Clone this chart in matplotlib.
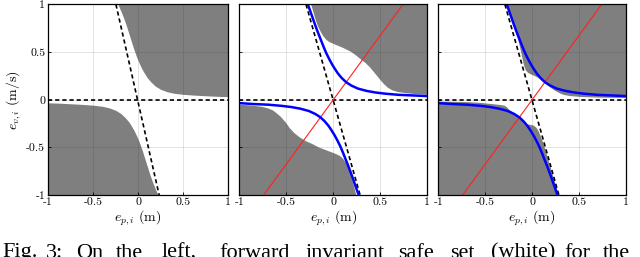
import matplotlib.pyplot as plt

plt.rcParams['mathtext.fontset'] = 'cm'
plt.rcParams['font.family'] = 'serif'
plt.rcParams['font.serif'] = ['cmr10', 'Liberation Serif', 'DejaVu Serif']
plt.rcParams['axes.unicode_minus'] = False

ticks = [-1, -0.5, 0, 0.5, 1]
tick_labels = ['-1', '-0.5', '0', '0.5', '1']

# panel 1: edges of the gray (unsafe) regions
p1_up_x = [-0.222, -0.19, -0.16, -0.13, -0.10, -0.073, -0.05, -0.02, 0.01, 0.04, 0.07,
           0.10, 0.14, 0.19, 0.25, 0.32, 0.40, 0.50, 0.60, 0.75, 0.88, 1.0]
p1_up_y = [1.0, 0.93, 0.86, 0.78, 0.69, 0.61, 0.54, 0.46, 0.39, 0.33, 0.28,
           0.235, 0.19, 0.145, 0.11, 0.085, 0.068, 0.057, 0.050, 0.042, 0.036, 0.032]
p1_lo_x = [-1.0, -0.88, -0.75, -0.60, -0.50, -0.40, -0.32, -0.25, -0.19, -0.14, -0.10,
           -0.07, -0.04, -0.01, 0.02, 0.05, 0.073, 0.10, 0.13, 0.16, 0.19, 0.222]
p1_lo_y = [-0.032, -0.036, -0.042, -0.050, -0.057, -0.068, -0.085, -0.11, -0.145, -0.19, -0.235,
           -0.28, -0.33, -0.39, -0.46, -0.54, -0.61, -0.69, -0.78, -0.86, -0.93, -1.0]

# panel 2
p2_up_x = [-0.24, -0.215, -0.195, -0.17, -0.14, -0.11, -0.08, -0.05, -0.01, 0.03, 0.08,
           0.124, 0.18, 0.231, 0.28, 0.337, 0.39, 0.443, 0.49, 0.532, 0.575, 0.621,
           0.68, 0.763, 0.85, 1.0]
p2_up_y = [1.0, 0.92, 0.85, 0.78, 0.72, 0.67, 0.635, 0.612, 0.595, 0.578, 0.558,
           0.538, 0.51, 0.475, 0.435, 0.392, 0.34, 0.276, 0.22, 0.171, 0.132, 0.105,
           0.087, 0.075, 0.066, 0.058]
p2_lo_x = [-1.0, -0.85, -0.76, -0.70, -0.65, -0.61, -0.56, -0.51, -0.471, -0.42, -0.365,
           -0.30, -0.223, -0.16, -0.081, -0.02, 0.025, 0.07, 0.10, 0.13, 0.155, 0.18,
           0.20, 0.22, 0.24]
p2_lo_y = [-0.045, -0.058, -0.070, -0.085, -0.105, -0.135, -0.178, -0.235, -0.29, -0.345, -0.388,
           -0.428, -0.462, -0.495, -0.525, -0.548, -0.565, -0.588, -0.615, -0.66, -0.71, -0.78,
           -0.85, -0.92, -1.0]

# panel 3
p3_up_x = [-0.275, -0.25, -0.22, -0.19, -0.16, -0.135, -0.115, -0.10, -0.085, -0.07, -0.045,
           -0.005, 0.035, 0.065, 0.10, 0.136, 0.165, 0.19, 0.225, 0.261, 0.30, 0.332,
           0.40, 0.509, 0.70, 1.0]
p3_up_y = [1.0, 0.93, 0.85, 0.76, 0.66, 0.56, 0.47, 0.40, 0.345, 0.31, 0.285,
           0.266, 0.248, 0.232, 0.205, 0.178, 0.155, 0.134, 0.108, 0.088, 0.068, 0.056,
           0.044, 0.035, 0.028, 0.024]
p3_lo_x = [-1.0, -0.80, -0.66, -0.55, -0.446, -0.36, -0.303, -0.275, -0.25, -0.22, -0.19,
           -0.162, -0.12, -0.09, -0.06, -0.02, 0.016, 0.045, 0.069, 0.095, 0.122, 0.15,
           0.18, 0.21, 0.24, 0.278]
p3_lo_y = [-0.014, -0.017, -0.021, -0.028, -0.039, -0.048, -0.056, -0.072, -0.100, -0.122, -0.142,
           -0.162, -0.20, -0.235, -0.252, -0.259, -0.268, -0.295, -0.336, -0.40, -0.475, -0.57,
           -0.67, -0.77, -0.87, -1.0]

# blue curves (panels 2 and 3)
blue_up_x = [-0.27, -0.245, -0.22, -0.195, -0.165, -0.135, -0.105, -0.075, -0.045, -0.015, 0.018,
             0.05, 0.09, 0.136, 0.19, 0.26, 0.35, 0.443, 0.55, 0.691, 0.85, 1.0]
blue_up_y = [1.0, 0.93, 0.86, 0.79, 0.71, 0.635, 0.56, 0.49, 0.43, 0.375, 0.322,
             0.275, 0.228, 0.185, 0.15, 0.118, 0.094, 0.077, 0.064, 0.052, 0.045, 0.039]
blue_lo_x = [-1.0, -0.85, -0.691, -0.55, -0.443, -0.35, -0.26, -0.19, -0.136, -0.09, -0.05,
             -0.018, 0.015, 0.045, 0.075, 0.105, 0.135, 0.165, 0.195, 0.22, 0.245, 0.27]
blue_lo_y = [-0.035, -0.045, -0.052, -0.064, -0.077, -0.094, -0.118, -0.15, -0.185, -0.228, -0.275,
             -0.322, -0.375, -0.43, -0.49, -0.56, -0.635, -0.71, -0.79, -0.86, -0.93, -1.0]

# dashed line and red line endpoints
dash1_x = [-0.245, 0.235]
dash23_x = [-0.29, 0.285]
dash_y = [1, -1]
red_x = [-0.74, 0.74]
red_y = [-1, 1]

gray = '#7f7f7f'

fig = plt.figure(figsize=(6.4, 2.57), dpi=100)
axs = [fig.add_axes([48 / 640, 62 / 257, 180 / 640, 190.5 / 257]),
       fig.add_axes([239.3 / 640, 62 / 257, 188 / 640, 190.5 / 257]),
       fig.add_axes([438.3 / 640, 62 / 257, 187.7 / 640, 190.5 / 257])]

panels = [(p1_up_x, p1_up_y, p1_lo_x, p1_lo_y, dash1_x),
          (p2_up_x, p2_up_y, p2_lo_x, p2_lo_y, dash23_x),
          (p3_up_x, p3_up_y, p3_lo_x, p3_lo_y, dash23_x)]

for i, (ax, (ux, uy, lx, ly, dx)) in enumerate(zip(axs, panels)):
    ax.fill_between(ux, uy, 1, color=gray, lw=0, zorder=1)
    ax.fill_between(lx, ly, -1, color=gray, lw=0, zorder=1)
    ax.axhline(0, color='k', ls=(0, (2.5, 1.8)), lw=1.2, zorder=4)
    ax.plot(dx, dash_y, color='k', ls=(0, (2.5, 1.8)), lw=1.2, zorder=4)
    if i > 0:
        ax.plot(red_x, red_y, color='#ff2020', lw=0.8, zorder=5)
        ax.plot(blue_up_x, blue_up_y, color='#0000ff', lw=1.8, zorder=6)
        ax.plot(blue_lo_x, blue_lo_y, color='#0000ff', lw=1.8, zorder=6)
    ax.set_xlim(-1, 1)
    ax.set_ylim(-1, 1)
    ax.set_xticks(ticks)
    ax.set_xticklabels(tick_labels, fontsize=8.5)
    ax.set_yticks(ticks)
    if i == 0:
        ax.set_yticklabels(tick_labels, fontsize=8.5)
        ax.set_ylabel(r'$e_{v,i}$ (m/s)', fontsize=10, labelpad=2)
    else:
        ax.set_yticklabels([])
    ax.set_xlabel(r'$e_{p,i}$ (m)', fontsize=10, labelpad=1)
    ax.tick_params(direction='in', length=2.5, width=0.6, pad=2)
    ax.grid(True, color='#262626', alpha=0.15, lw=0.6, zorder=2)
    ax.set_axisbelow(False)
    for s in ax.spines.values():
        s.set_linewidth(0.9)
        s.set_zorder(7)

# caption line (justified words, cut at the bottom like the source)
cap_words = ['Fig.', '3:', 'On', 'the', 'left,', 'forward', 'invariant',
             'safe', 'set', '(white)', 'for', 'the']
cap_x = [2, 46, 76, 116, 162, 219, 306, 398, 450, 491, 564, 603]
for w, x in zip(cap_words, cap_x):
    fig.text(x / 640, 1 - 257.5 / 257, w, fontsize=16, family='Liberation Serif',
             ha='left', va='baseline')

fig.savefig('out.png', dpi=100)
